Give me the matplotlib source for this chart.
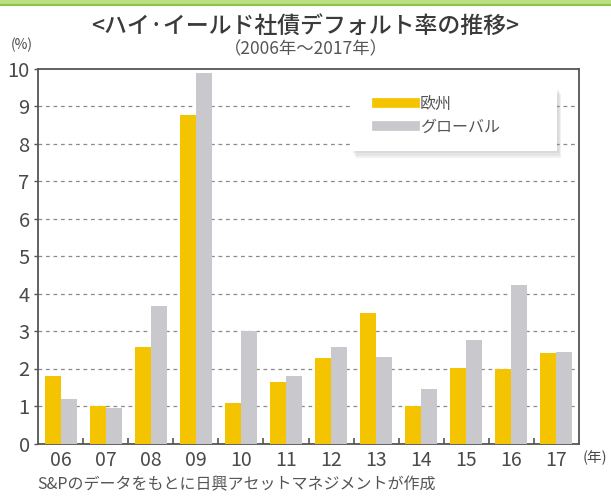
import matplotlib
matplotlib.use("Agg")
import matplotlib.pyplot as plt
import numpy as np
from matplotlib.patches import Rectangle
from matplotlib.lines import Line2D

plt.rcParams['font.family'] = ['Noto Sans CJK JP', 'DejaVu Sans']

years = ["06", "07", "08", "09", "10", "11", "12", "13", "14", "15", "16", "17"]
europe = [1.8, 1.0, 2.57, 8.75, 1.07, 1.65, 2.29, 3.49, 1.01, 2.02, 2.0, 2.41]
global_ = [1.2, 0.95, 3.67, 9.88, 3.0, 1.81, 2.57, 2.31, 1.45, 2.76, 4.23, 2.43]
series_names = ["欧州", "グローバル"]
yticks = list(range(0, 11))

title = "<ハイ·イールド社債デフォルト率の推移>"
subtitle = "（2006年〜2017年）"
footnote = "S&Pのデータをもとに日興アセットマネジメントが作成"

YELLOW = "#f5c400"
GRAY = "#c9c9cd"
TXT = "#4a4a4a"

fig = plt.figure(figsize=(6.11, 4.97), dpi=100)
W, H = 611, 497
ax = fig.add_axes([38 / W, 1 - 443.5 / H, (579 - 38) / W, (443.5 - 68.5) / H])

x = np.arange(len(years))
bw = 0.355
ax.bar(x - bw / 2, europe, width=bw, color=YELLOW, zorder=3)
ax.bar(x + bw / 2, global_, width=bw, color=GRAY, zorder=3)

ax.set_xlim(-0.5, len(years) - 0.5)
ax.set_ylim(0, 10)
ax.set_yticks(yticks)
ax.set_yticklabels([str(t) for t in yticks], fontsize=14.5, color=TXT)
ax.set_xticks(x)
ax.set_xticklabels(years, fontsize=14, color=TXT)
ax.tick_params(axis='x', length=0, pad=5)
ax.tick_params(axis='y', length=3, width=1, color="#555555", pad=3, direction='out')
ax.set_xticks(np.arange(0.5, len(years) - 0.5, 1), minor=True)
ax.tick_params(axis='x', which='minor', length=4, width=1.2, color="#555555", direction='in')

for s in ax.spines.values():
    s.set_color("#555555")
    s.set_linewidth(1.3)

for t in yticks[1:-1]:
    ax.axhline(t, color="#8a8a8a", lw=0.9, ls=(0, (3, 3)), zorder=1)

# legend box with soft shadow
lx0, ly0, lx1, ly1 = 0.58, 0.78, 0.96, 0.95
for i, a in enumerate([0.12, 0.12, 0.12]):
    d = 0.004 * (i + 1)
    ax.add_patch(Rectangle((lx0 + d * 0.6, ly0 - d * 1.6), lx1 - lx0, ly1 - ly0,
                           transform=ax.transAxes, facecolor="#909090", edgecolor="none",
                           zorder=4, alpha=a))
ax.add_patch(Rectangle((lx0, ly0), lx1 - lx0, ly1 - ly0,
                       transform=ax.transAxes, facecolor="white", edgecolor="none", zorder=5))
handles = [Line2D([], [], color=YELLOW, lw=7), Line2D([], [], color=GRAY, lw=7)]
leg = ax.legend(handles, series_names, loc='upper left', bbox_to_anchor=(0.6, 0.965),
                frameon=False, fontsize=11.5, handlelength=2.4, handletextpad=0.3,
                labelspacing=0.35, labelcolor="#555555")
leg.set_zorder(6)

fig.text(0.5, 1 - 27 / H, title, ha='center', va='center', fontsize=16.5,
         color="#3a3a3a", fontweight='medium')
fig.text(0.5, 1 - 49 / H, subtitle, ha='center', va='center', fontsize=12.5, color="#555555")
fig.text(22 / W, 1 - 45 / H, "(%)", ha='center', va='center', fontsize=10, color=TXT)
fig.text(583 / W, 1 - 458 / H, "(年)", ha='left', va='center', fontsize=10.5, color=TXT)
fig.text(37 / W, 1 - 485 / H, footnote, ha='left', va='center', fontsize=11.5, color="#555555")

# top green band
fig.patches.append(Rectangle((0, 1 - 5 / H), 1, 5 / H, transform=fig.transFigure,
                             facecolor="#b9de83", edgecolor="none"))
fig.lines.append(Line2D([0, 1], [1 - 5 / H, 1 - 5 / H], transform=fig.transFigure,
                        color="#8cc63f", lw=1.5))

fig.savefig("out.png", dpi=100)
